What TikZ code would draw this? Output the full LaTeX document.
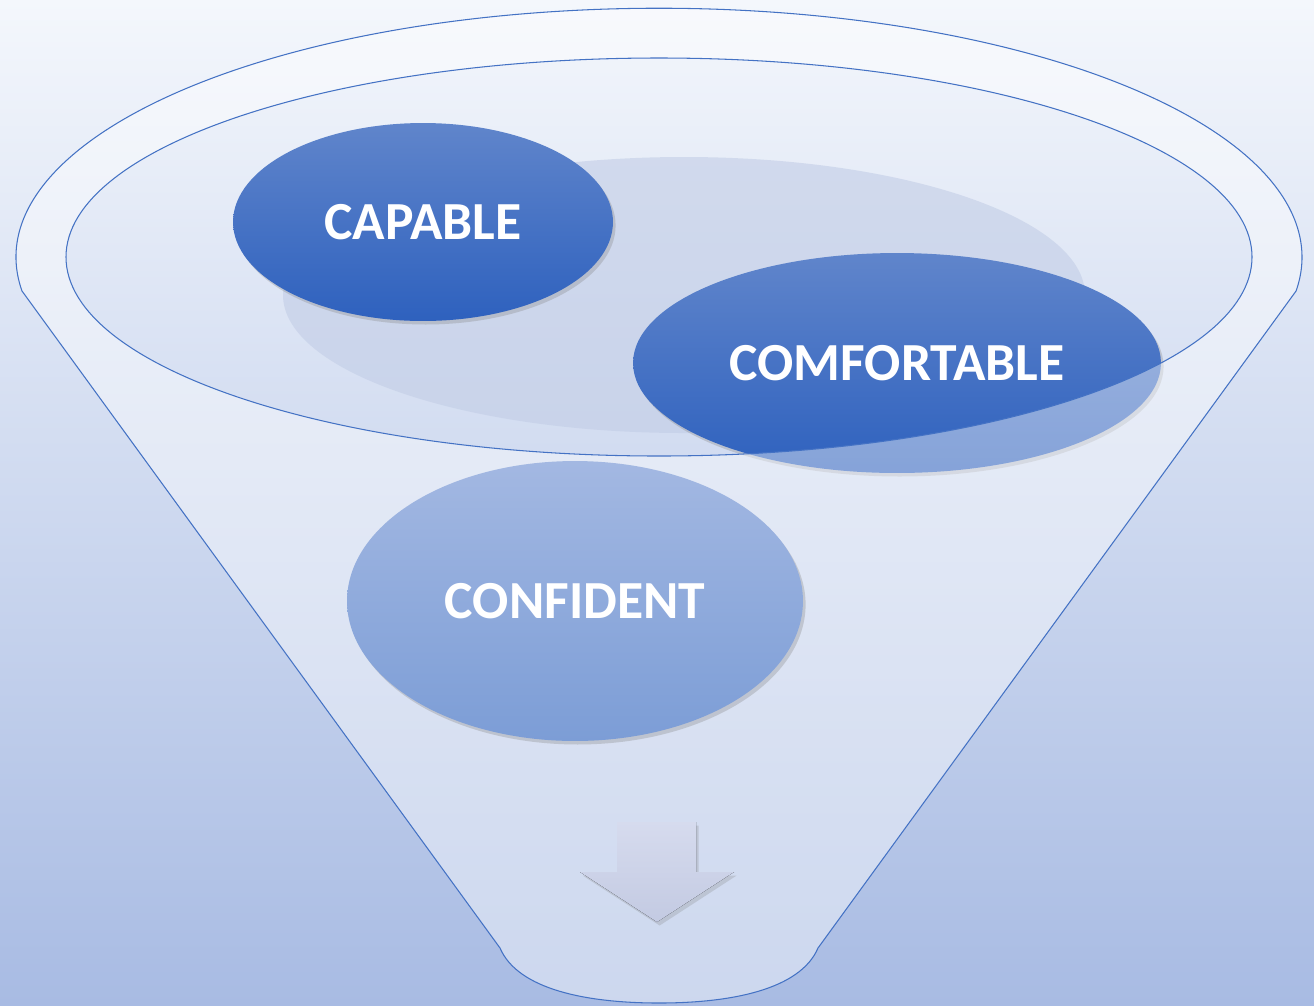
\documentclass[tikz,border=0pt]{standalone}
\usepackage{fontspec}
\setmainfont{Carlito}
\usetikzlibrary{shapes.geometric,shadows}
\definecolor{bgtop}{HTML}{F4F7FC}
\definecolor{bgbot}{HTML}{A8BBE3}
\definecolor{rim}{HTML}{4472C4}
\definecolor{dtop}{HTML}{6085CB}
\definecolor{dbot}{HTML}{2E61BE}
\definecolor{ltop}{HTML}{A3B8E2}
\definecolor{lbot}{HTML}{7C9DD6}
\definecolor{atop}{HTML}{D6DBEE}
\definecolor{abot}{HTML}{C3CAE2}
\definecolor{backell}{HTML}{C2CDE6}
\tikzset{
  blob/.style={ellipse, inner sep=0pt, text=white,
    font=\fontsize{30.5}{36}\selectfont\bfseries,
    drop shadow={opacity=0.3, shadow xshift=1.5pt, shadow yshift=-2pt}},
  darkblob/.style={blob, top color=dtop, bottom color=dbot},
  lightblob/.style={blob, top color=ltop, bottom color=lbot},
  rimline/.style={draw=rim, line width=0.6pt},
}
\begin{document}
\begin{tikzpicture}[x=0.02cm, y=-0.02cm]
  % background
  \shade[top color=bgtop, bottom color=bgbot] (0,0) rectangle (1314,1005);
  \useasboundingbox (0,0) rectangle (1314,1005);
  % back shaded ellipse inside funnel mouth
  \fill[backell, opacity=0.6] (684,295) ellipse[x radius=401, y radius=138];
  % upper ellipses
  \node[darkblob, minimum width=7.6cm, minimum height=3.96cm] (capable) at (423,222) {CAPABLE};
  \node[darkblob, minimum width=10.56cm, minimum height=4.4cm] (comfortable) at (897,363) {COMFORTABLE};
  % funnel body (translucent, with hole for the mouth)
  \fill[white, opacity=0.42, even odd rule]
    (22,291) arc[start angle=172.2, end angle=367.8, x radius=643, y radius=249]
    -- (818,948) .. controls (800,990) and (730,1003) .. (659,1003)
    .. controls (588,1003) and (518,990) .. (500,948) -- cycle
    (659,257) ellipse[x radius=593, y radius=199];
  % funnel outline
  \draw[rimline]
    (22,291) arc[start angle=172.2, end angle=367.8, x radius=643, y radius=249]
    -- (818,948) .. controls (800,990) and (730,1003) .. (659,1003)
    .. controls (588,1003) and (518,990) .. (500,948) -- cycle;
  \draw[rimline] (659,257) ellipse[x radius=593, y radius=199];
  % lower ellipse
  \node[lightblob, minimum width=9.12cm, minimum height=5.6cm] (confident) at (575,601) {CONFIDENT};
  % down arrow
  \fill[top color=atop, bottom color=abot,
        drop shadow={opacity=0.25, shadow xshift=1.5pt, shadow yshift=-2pt}]
    (617,822) -- (696,822) -- (696,872) -- (734,872) -- (657,922)
    -- (580,872) -- (617,872) -- cycle;
\end{tikzpicture}
\end{document}
